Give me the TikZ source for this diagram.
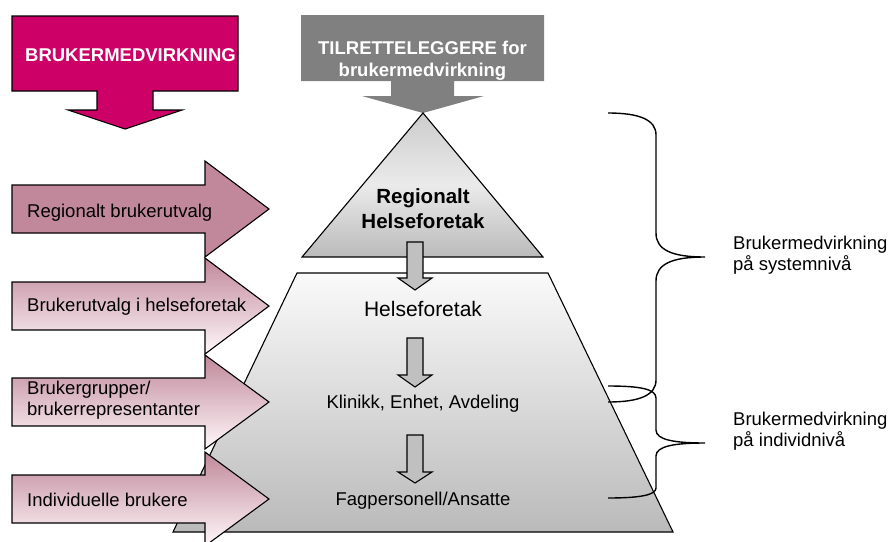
\documentclass[tikz,border=0pt]{standalone}
\usepackage{fontspec}
\setmainfont{Liberation Sans}
\definecolor{userpink}{HTML}{CC0066}
\definecolor{facgrey}{HTML}{808080}
\definecolor{mauve}{HTML}{C0889A}
\definecolor{paleend}{HTML}{FFF8FA}
\definecolor{stepgrey}{HTML}{C0C0C0}
\tikzset{
  outline/.style={draw=black, line width=1.1pt, line join=miter},
  txt/.style={inner sep=0pt, font=\fontsize{18.5}{21}\selectfont},
  boldtxt/.style={inner sep=0pt, font=\bfseries\fontsize{18.5}{22}\selectfont, text=white, align=center},
  sidesolid/.style={outline, fill=mauve},
  sidefade/.style={outline, top color=mauve, bottom color=paleend},
  stepdown/.style={outline, fill=stepgrey},
  bracket/.style={draw=black, line width=1.4pt},
}
\begin{document}
\begin{tikzpicture}[x=1pt, y=-1pt]
\useasboundingbox (0,0) rectangle (890,541);
\clip (0,0) rectangle (890,541);

% top block arrows
\path[outline, fill=userpink] (12,16) -- (238,16) -- (238,91) -- (153,91) -- (153,110)
  -- (182,110) -- (125,129) -- (68,110) -- (97,110) -- (97,91) -- (12,91) -- cycle;
\node[boldtxt] (user) at (130.5,55) {BRUKERMEDVIRKNING};

\path[fill=facgrey] (301,15) -- (544,15) -- (544,81) -- (454,81) -- (454,96)
  -- (484,96) -- (423,113) -- (362,96) -- (391,96) -- (391,81) -- (301,81) -- cycle;
\node[boldtxt] (fac) at (422.5,61) {TILRETTELEGGERE for\\brukermedvirkning};

% pyramid: regional top and lower trapezoid
\path[outline, top color=black!20, bottom color=black!27, middle color=black!8]
  (423,113) -- (543,257) -- (302,257) -- cycle;
\path[outline, top color=black!2, bottom color=black!27]
  (297,273) -- (548,273) -- (673,532) -- (173,532) -- cycle;

% downward steps
\path[stepdown] (407,242) -- (423,242) -- (423,278) -- (432,278) -- (415,290) -- (398,278) -- (407,278) -- cycle;
\path[stepdown] (407,338) -- (423,338) -- (423,375) -- (432,375) -- (415,387) -- (398,375) -- (407,375) -- cycle;
\path[stepdown] (407,435) -- (423,435) -- (423,472) -- (432,472) -- (415,483) -- (398,472) -- (407,472) -- cycle;

\node[inner sep=0pt, font=\bfseries\fontsize{20.5}{25}\selectfont, align=center] (rhf) at (423,209) {Regionalt\\Helseforetak};
\node[txt, font=\fontsize{21}{24}\selectfont] (hf) at (423,309) {Helseforetak};
\node[txt] (kea) at (423,404) {Klinikk, Enhet, Avdeling};
\node[txt] (fag) at (423,501) {Fagpersonell/Ansatte};

% user side arrows
\path[sidesolid, shift={(0,209)}] (12,-24) -- (205,-24) -- (205,-48) -- (269,0) -- (205,48) -- (205,24) -- (12,24) -- cycle;
\path[sidefade, shift={(0,306)}] (12,-24) -- (205,-24) -- (205,-48) -- (269,0) -- (205,48) -- (205,24) -- (12,24) -- cycle;
\path[sidefade, shift={(0,402)}] (12,-24) -- (205,-24) -- (205,-47) -- (269,0) -- (205,47) -- (205,24) -- (12,24) -- cycle;
\path[sidefade, shift={(0,499)}] (12,-24) -- (205,-24) -- (205,-47) -- (269,0) -- (205,47) -- (205,24) -- (12,24) -- cycle;

\node[txt, anchor=west] (rbu) at (27,213) {Regionalt brukerutvalg};
\node[txt, anchor=west] (bhf) at (27,307) {Brukerutvalg i helseforetak};
\node[txt, anchor=west, align=left] (bgr) at (27,400) {Brukergrupper/\\brukerrepresentanter};
\node[txt, anchor=west] (ind) at (27,500) {Individuelle brukere};

% level braces
\draw[bracket] (608,113) .. controls (640,113) and (656,120) .. (656,135) -- (656,233)
  .. controls (656,250) and (672,257) .. (705,257)
  .. controls (672,257) and (656,264) .. (656,281) -- (656,380)
  .. controls (656,395) and (640,402) .. (608,402);
\draw[bracket] (608,386) .. controls (640,386) and (656,389) .. (656,398) -- (656,430)
  .. controls (656,440) and (675,443) .. (705,443)
  .. controls (675,443) and (656,446) .. (656,456) -- (656,488)
  .. controls (656,495) and (640,498) .. (608,498);

\node[txt, anchor=west, align=left] (sys) at (733,255) {Brukermedvirkning\\på systemnivå};
\node[txt, anchor=west, align=left] (indl) at (733,431) {Brukermedvirkning\\på individnivå};
\end{tikzpicture}
\end{document}
